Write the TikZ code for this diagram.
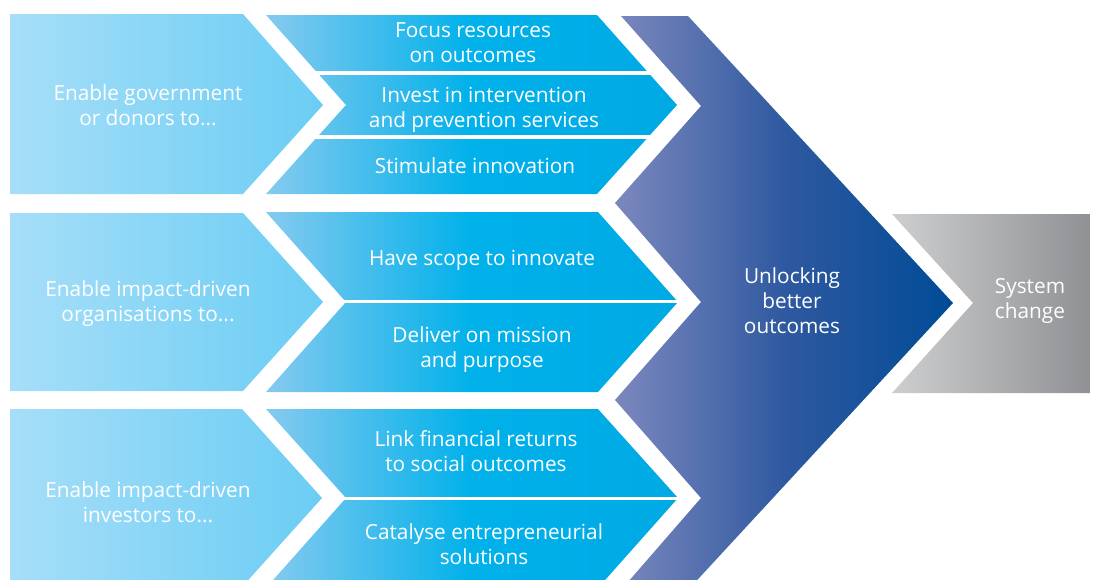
\documentclass[tikz,border=0pt]{standalone}
\usepackage{fontspec}
\setmainfont{Open Sans}
\definecolor{lcA}{HTML}{A6DEF8}
\definecolor{lcB}{HTML}{6BCDF4}
\definecolor{mcA}{HTML}{86CAEF}
\definecolor{mcB}{HTML}{00B1EA}
\definecolor{mcC}{HTML}{00A9E4}
\definecolor{dkA}{HTML}{7C88BD}
\definecolor{dkB}{HTML}{2F59A0}
\definecolor{dkC}{HTML}{004B96}
\definecolor{gyA}{HTML}{CDCECF}
\definecolor{gyB}{HTML}{909194}
\begin{document}
\begin{tikzpicture}[x=0.75pt,y=-0.75pt,
  lbl/.style={text=white, align=center, inner sep=0pt,
    font=\fontsize{15.6}{18.75}\selectfont},
  leftarrow/.style={left color=lcA, right color=lcB},
  midarrow/.style={left color=mcA, right color=mcC, middle color=mcB},
  bigarrow/.style={left color=dkA, right color=dkC, middle color=dkB},
  endarrow/.style={left color=gyA, right color=gyB},
  divider/.style={white, line width=2.7pt}]
\useasboundingbox (0,0) rectangle (1096,579);
\clip (0,0) rectangle (1096,579);

% first column: who is enabled
\shade[leftarrow] (10,14) -- (243,14) -- (323,105) -- (243,194) -- (10,194) -- cycle;
\shade[leftarrow] (10,213) -- (243,213) -- (323,302) -- (243,391) -- (10,391) -- cycle;
\shade[leftarrow] (10,409) -- (242,409) -- (322,498) -- (242,587) -- (10,587) -- cycle;

% second column: what they are enabled to do
\shade[midarrow] (266,15) -- (597,15) -- (677,105) -- (597,194) -- (266,194) -- (346,105) -- cycle;
\shade[midarrow] (266,212) -- (598,212) -- (678,302) -- (598,392) -- (266,392) -- (346,302) -- cycle;
\shade[midarrow] (266,409) -- (598,409) -- (678,498) -- (598,588) -- (266,588) -- (346,498) -- cycle;

% white rules splitting the second column
\draw[divider] (300,73) -- (664,73);
\draw[divider] (300,137) -- (664,137);
\draw[divider] (330,301.5) -- (690,301.5);
\draw[divider] (330,498.5) -- (690,498.5);

% large chevron
\shade[bigarrow] (621,16) -- (688,16) -- (953,303) -- (688,590) -- (621,590)
  -- (701,498) -- (615,400) -- (701,302) -- (615,203) -- (701,106) -- cycle;

% final arrow
\shade[endarrow] (892,214) -- (1090,214) -- (1090,393) -- (892,393) -- (973,303) -- cycle;

% labels
\node[lbl] (gov) at (148,105) {Enable government\\or donors to...};
\node[lbl] (org) at (148,304) {Enable impact-driven\\organisations to...};
\node[lbl] (inv) at (148,502) {Enable impact-driven\\investors to...};

\node[lbl] (focus) at (473,43) {Focus resources\\on outcomes};
\node[lbl] (invest) at (484,110) {Invest in intervention\\and prevention services};
\node[lbl] (stim) at (475,166) {Stimulate innovation};
\node[lbl] (scope) at (482,260) {Have scope to innovate};
\node[lbl] (deliver) at (482,350) {Deliver on mission\\and purpose};
\node[lbl] (link) at (476,451) {Link financial returns\\to social outcomes};
\node[lbl] (cat) at (484,544) {Catalyse entrepreneurial\\solutions};

\node[lbl] (unlock) at (792,301) {Unlocking\\better\\outcomes};
\node[lbl] (sys) at (1030,301) {System\\change};
\end{tikzpicture}
\end{document}
